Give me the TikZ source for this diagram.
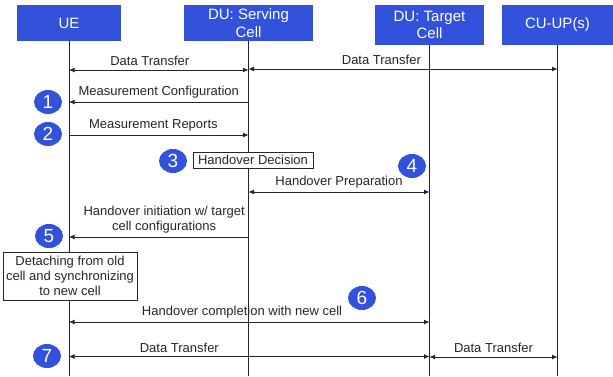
\documentclass[tikz,border=0pt]{standalone}
\usepackage{fontspec}
\setmainfont{Liberation Sans}
\usetikzlibrary{arrows.meta,shapes.geometric}
\definecolor{boxblue}{RGB}{51,82,219}
\definecolor{ink}{RGB}{38,38,38}
\begin{document}
\begin{tikzpicture}[x=1pt,y=-1pt,
  actor/.style={fill=boxblue,text=white,inner sep=0pt,align=center,
    font=\fontsize{15}{17.5}\selectfont},
  life/.style={draw=ink,line width=0.9pt},
  msg/.style={draw=ink,line width=0.85pt},
  tipend/.style={-{Latex[length=5.5pt,width=5pt]}},
  tipboth/.style={{Latex[length=5.5pt,width=5pt]}-{Latex[length=5.5pt,width=5pt]}},
  lbl/.style={font=\fontsize{13}{14.8}\selectfont,text=ink,inner sep=1pt,align=center},
  stepnum/.style={ellipse,fill=boxblue,text=white,minimum width=28pt,
    minimum height=24pt,inner sep=0pt,font=\fontsize{19}{19}\selectfont},
  notebox/.style={draw=ink,fill=white,line width=0.8pt,inner sep=2pt,align=center,
    font=\fontsize{13}{15}\selectfont,text=ink}
]
\useasboundingbox (0,0) rectangle (613,376);

% participants
\node[actor,minimum width=104pt,minimum height=36pt] (ue) at (69,23) {UE};
\node[actor,minimum width=129pt,minimum height=36pt] (du) at (248.5,23) {DU: Serving\\Cell};
\node[actor,minimum width=109pt,minimum height=40pt] (dt) at (429.5,25) {DU: Target\\Cell};
\node[actor,minimum width=111pt,minimum height=40pt] (cu) at (557.5,25) {CU-UP(s)};

% lifeline ends
\coordinate (ueEnd) at (ue |- 0,376);
\coordinate (duEnd) at (du |- 0,376);
\coordinate (dtEnd) at (dt |- 0,376);
\coordinate (cuEnd) at (cu |- 0,376);
\draw[life] (ue.south) -- (ueEnd);
\draw[life] (du.south) -- (duEnd);
\draw[life] (dt.south) -- (dtEnd);
\draw[life] (cu.south) -- (cuEnd);

% message anchors on the lifelines
\coordinate (ue1) at (ue |- 0,70);
\coordinate (du1) at (du |- 0,70);
\coordinate (du1b) at (du |- 0,69);
\coordinate (cu1) at (cu |- 0,69);
\coordinate (ue2) at (ue |- 0,102);
\coordinate (du2) at (du |- 0,102);
\coordinate (ue3) at (ue |- 0,135);
\coordinate (du3) at (du |- 0,135);
\coordinate (du4) at (du |- 0,192);
\coordinate (dt4) at (dt |- 0,192);
\coordinate (ue5) at (ue |- 0,237);
\coordinate (du5) at (du |- 0,237);
\coordinate (ue6) at (ue |- 0,322);
\coordinate (dt6) at (dt |- 0,322);
\coordinate (ue7) at (ue |- 0,356.5);
\coordinate (dt7) at (dt |- 0,356.5);
\coordinate (dt7b) at (dt |- 0,357);
\coordinate (cu7) at (cu |- 0,357);

% messages
\draw[msg,tipboth] (ue1) -- node[lbl,pos=0.45,above=2.5pt] {Data Transfer} (du1);
\draw[msg,tipboth] (du1b) -- node[lbl,pos=0.43,above=2.5pt] {Data Transfer} (cu1);
\draw[msg,tipend] (du2) -- node[lbl,midway,above=2.5pt] {Measurement Configuration} (ue2);
\draw[msg,tipend] (ue3) -- node[lbl,pos=0.47,above=2.5pt] {Measurement Reports} (du3);
\draw[msg,tipboth] (du4) -- node[lbl,midway,above=2.5pt] {Handover Preparation} (dt4);
\draw[msg,tipend] (du5) -- node[lbl,pos=0.47,above=2.5pt] {Handover initiation w/ target\\cell configurations} (ue5);
\draw[msg,tipboth] (ue6) -- node[lbl,pos=0.48,above=2.5pt] {Handover completion with new cell} (dt6);
\draw[msg,tipboth] (ue7) -- node[lbl,pos=0.306,above=2.5pt] {Data Transfer} (dt7);
\draw[msg,tipboth] (dt7b) -- node[lbl,midway,above=2.5pt] {Data Transfer} (cu7);

% notes
\node[notebox,minimum width=120pt,minimum height=16pt,inner sep=1pt] (decision) at (253,160) {Handover Decision};
\node[notebox,minimum width=134pt,minimum height=48pt] (detach) at (70,276) {Detaching from old\\cell and synchronizing\\to new cell};

% step markers
\node[stepnum] (s1) at (48,102) {1};
\node[stepnum] (s2) at (48,134) {2};
\node[stepnum] (s3) at (173,161) {3};
\node[stepnum] (s4) at (412,166) {4};
\node[stepnum] (s5) at (49,236) {5};
\node[stepnum] (s6) at (362,298) {6};
\node[stepnum] (s7) at (47,356) {7};
\end{tikzpicture}
\end{document}
